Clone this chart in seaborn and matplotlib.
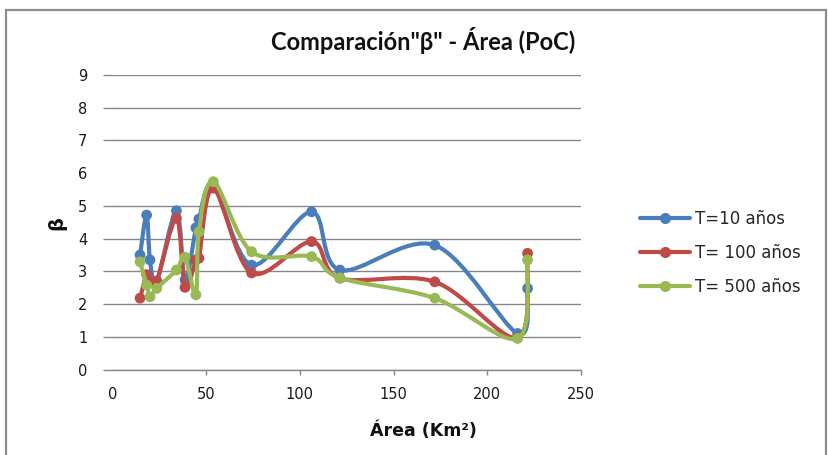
import numpy as np
import matplotlib
matplotlib.use("Agg")
import matplotlib.pyplot as plt
from matplotlib.path import Path
from matplotlib.patches import PathPatch, Rectangle
from matplotlib.lines import Line2D
import pandas as pd
import seaborn as sns

# Catchment area (km²) and beta coefficient per return period
area = [14.8, 18.3, 20.1, 23.7, 34.2, 38.8, 44.6, 46.2, 53.9, 74.3, 106.3, 121.4, 172.0, 216.2, 221.5]
beta_t10 = [3.50, 4.72, 3.35, 2.70, 4.85, 2.74, 4.33, 4.60, 5.62, 3.19, 4.82, 3.04, 3.80, 1.10, 2.48]
beta_t100 = [2.18, 2.90, 2.72, 2.70, 4.62, 2.51, 3.35, 3.40, 5.54, 2.95, 3.91, 2.79, 2.68, 0.97, 3.55]
beta_t500 = [3.29, 2.58, 2.22, 2.48, 3.04, 3.43, 2.28, 4.21, 5.74, 3.60, 3.45, 2.80, 2.18, 0.95, 3.35]

series_names = ["T=10 años", "T= 100 años", "T= 500 años"]
series_values = [beta_t10, beta_t100, beta_t500]
colors = ["#4A7EBB", "#BE4B48", "#98B954"]

x_ticks = [0, 50, 100, 150, 200, 250]
y_ticks = [0, 1, 2, 3, 4, 5, 6, 7, 8, 9]

sns.set_theme(style="white")
plt.rcParams["font.family"] = ["DejaVu Sans"]

W, H = 829, 455
fig = plt.figure(figsize=(W / 100, H / 100), dpi=100)
left, right, top, bottom = 112.3, 581.0, 75.0, 369.5
ax = fig.add_axes([left / W, 1 - bottom / H, (right - left) / W, (bottom - top) / H])


def smooth_path(xs, ys):
    """Cubic Bezier path through the points (Catmull-Rom style smoothing)."""
    pts = np.column_stack([xs, ys]).astype(float)
    ext = np.vstack([pts[0], pts, pts[-1]])
    verts = [pts[0]]
    codes = [Path.MOVETO]
    for i in range(len(pts) - 1):
        p0, p1, p2, p3 = ext[i], ext[i + 1], ext[i + 2], ext[i + 3]
        verts += [p1 + (p2 - p0) / 6.0, p2 - (p3 - p1) / 6.0, p2]
        codes += [Path.CURVE4] * 3
    return Path(verts, codes)


for k, (name, vals, col) in enumerate(zip(series_names, series_values, colors)):
    patch = PathPatch(smooth_path(area, vals), facecolor="none", edgecolor=col,
                      lw=3.0, capstyle="round", joinstyle="round", zorder=3 + 2 * k)
    ax.add_patch(patch)
    df = pd.DataFrame({"Área": area, "β": vals})
    sns.scatterplot(data=df, x="Área", y="β", ax=ax, color=col, s=60,
                    edgecolor="none", zorder=4 + 2 * k, legend=False)

ax.set_xlim(0, 250)
ax.set_ylim(0, 9)
ax.set_xticks(x_ticks)
ax.set_yticks(y_ticks)
ax.set_xticklabels([str(v) for v in x_ticks])
ax.set_yticklabels([str(v) for v in y_ticks])
ax.set_xlabel("")
ax.set_ylabel("")

grid_col = "#878787"
for s in ["left", "right", "top"]:
    ax.spines[s].set_visible(False)
ax.spines["bottom"].set_color(grid_col)
ax.spines["bottom"].set_linewidth(1.0)
ax.spines["bottom"].set_zorder(2)

ax.yaxis.grid(True, color=grid_col, lw=1.0, zorder=1)
ax.xaxis.grid(False)
ax.set_axisbelow(True)

ax.tick_params(axis="y", which="major", left=True, length=6.5, width=1.0,
               color=grid_col, pad=11.5, labelsize=10.5, labelcolor="#1a1a1a")
ax.tick_params(axis="x", which="major", bottom=True, length=3.6, width=1.0,
               color=grid_col, pad=9.0, labelsize=10.5, labelcolor="#1a1a1a")

# no gridline / tick at beta = 6, no tick at x = 0
ax.yaxis.get_gridlines()[6].set_visible(False)
ax.yaxis.get_major_ticks()[6].tick1line.set_visible(False)
ax.xaxis.get_major_ticks()[0].tick1line.set_visible(False)

# Title and axis titles
fig.text(423 / W, 1 - 40 / H, "Comparación\"β\" - Área (PoC)", ha="center", va="center",
         fontsize=17, fontweight="bold", family="Lato", color="#111111")
fig.text(423 / W, 1 - 431 / H, "Área (Km²)", ha="center", va="center",
         fontsize=12.5, fontweight="bold", color="#111111")
fig.text(57 / W, 1 - 223 / H, "β", ha="center", va="center", rotation=90,
         fontsize=14, fontweight="bold", color="#111111")

# Legend
handles = [Line2D([0], [0], color=c, lw=3.0, marker="o", markersize=7,
                  markeredgecolor=c) for c in colors]
fig.legend(handles, series_names, loc="center left",
           bbox_to_anchor=(640 / W, 1 - 253 / H), frameon=False,
           fontsize=12, handlelength=3.0, handletextpad=0.3, labelspacing=0.95,
           borderaxespad=0, borderpad=0)

# Chart area border
fig.add_artist(Rectangle((6 / W, -0.05), (826 - 6) / W, (1 - 10 / H) + 0.05,
                         transform=fig.transFigure, fill=False,
                         edgecolor="#8C8C8C", lw=1.6))

fig.savefig("out.png", dpi=100)
